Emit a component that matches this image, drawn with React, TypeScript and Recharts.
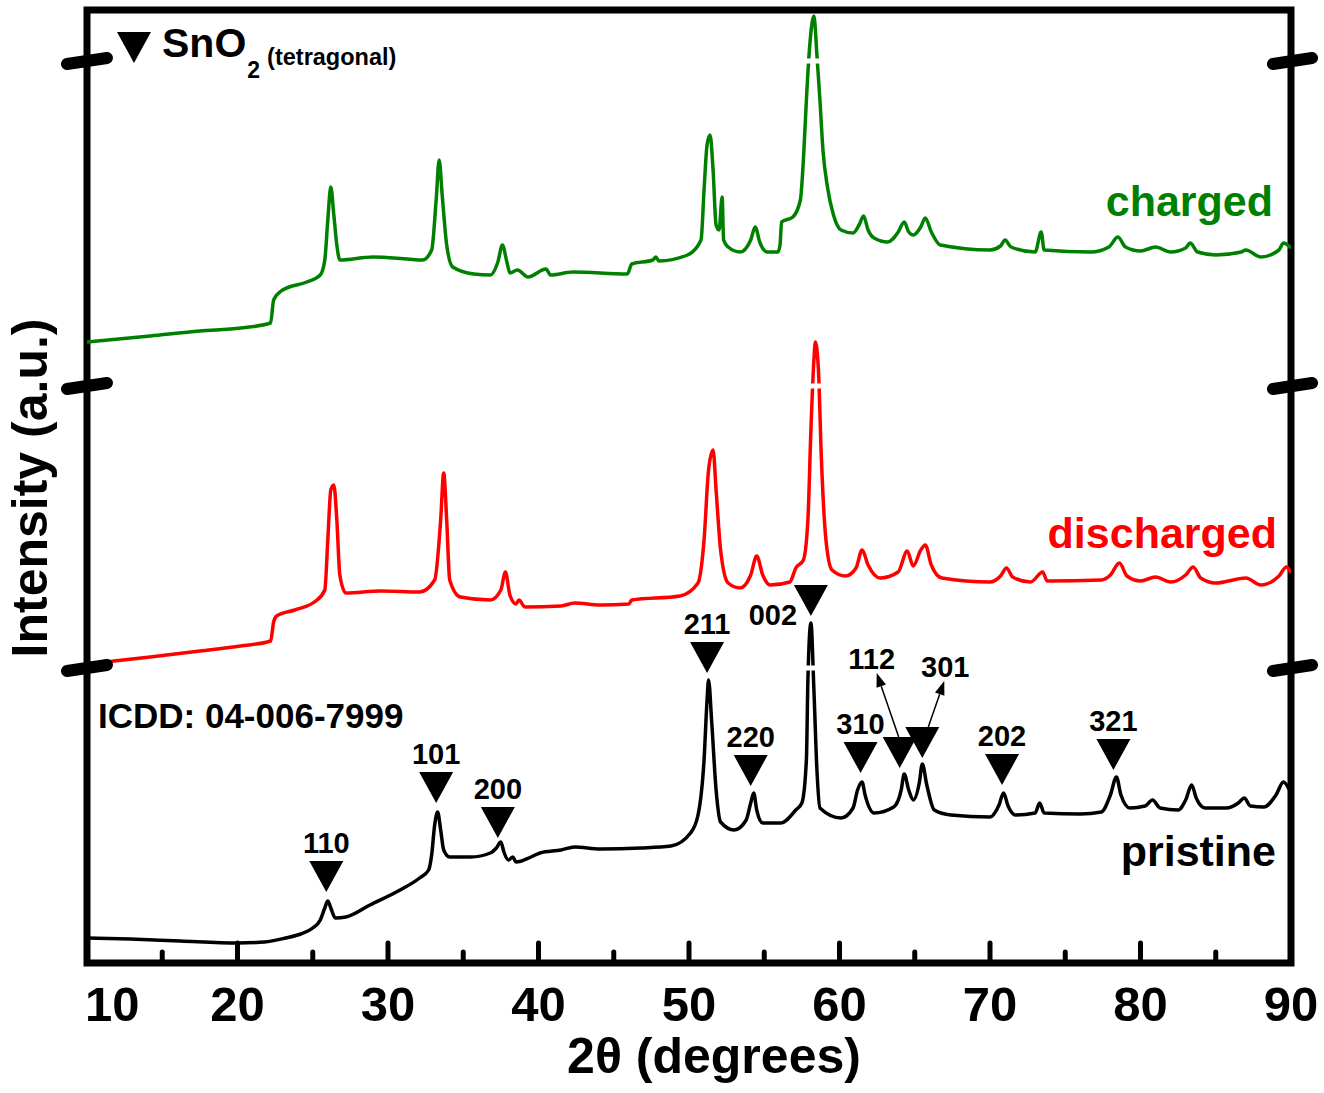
import { Line, LineChart, ReferenceArea, ReferenceDot, ReferenceLine, XAxis, YAxis } from 'recharts';

const FONT = '"Liberation Sans", Arial, sans-serif';

// XRD patterns: [2θ (degrees), intensity (a.u.)].
// Intensities are already stacked (vertical offset) as in the figure.
const pristine: [number, number][] = [
  [10.0, 25], [12.9, 24], [16.2, 22], [20.0, 20], [21.8, 21], [23.2, 25], [24.2, 29], [25.0, 35],
  [25.5, 43], [25.8, 55], [26.0, 62], [26.2, 55], [26.5, 45], [27.2, 46], [28.8, 58], [30.8, 73],
  [32.1, 85], [32.7, 93], [32.9, 108], [33.1, 138], [33.3, 151], [33.5, 133], [33.7, 113], [34.1, 106],
  [35.5, 106], [36.8, 110], [37.2, 115], [37.5, 121], [37.7, 111], [38.0, 103], [38.3, 106], [38.5, 101],
  [39.5, 106], [40.1, 110], [41.5, 113], [42.4, 116], [44.1, 114], [46.8, 115], [48.8, 117], [50.1, 130],
  [50.6, 148], [51.0, 203], [51.2, 263], [51.3, 283], [51.5, 243], [51.8, 173], [52.1, 141], [53.0, 133],
  [53.8, 143], [54.1, 160], [54.3, 170], [54.5, 153], [54.9, 140], [56.1, 140], [57.1, 153], [57.5, 160],
  [57.8, 203], [57.9, 283], [58.1, 340], [58.3, 273], [58.5, 193], [58.7, 155], [60.1, 145], [60.9, 155],
  [61.2, 173], [61.5, 181], [61.7, 168], [62.3, 150], [63.6, 156], [64.1, 173], [64.3, 189], [64.6, 173],
  [64.9, 163], [65.3, 180], [65.5, 199], [65.8, 178], [66.3, 153], [67.4, 148], [70.0, 146], [70.6, 158],
  [70.9, 170], [71.2, 157], [71.7, 148], [73.0, 150], [73.3, 160], [73.6, 150], [76.0, 149], [77.4, 151],
  [78.0, 168], [78.4, 186], [78.7, 168], [79.3, 155], [80.3, 157], [80.8, 163], [81.3, 155], [82.5, 153],
  [83.0, 163], [83.4, 178], [83.7, 165], [84.3, 155], [85.7, 155], [86.5, 160], [86.9, 165], [87.3, 157],
  [88.2, 156], [89.0, 168], [89.5, 181], [89.9, 173],
];

const discharged: [number, number][] = [
  [10.0, 299], [14.2, 306], [17.5, 312], [20.2, 317], [22.2, 322], [22.4, 341], [22.6, 347], [23.8, 353],
  [25.2, 362], [25.8, 373], [26.0, 423], [26.2, 473], [26.4, 478], [26.6, 443], [26.8, 388], [27.2, 370],
  [29.5, 372], [32.1, 371], [33.1, 383], [33.5, 443], [33.7, 490], [33.9, 443], [34.1, 383], [34.8, 366],
  [36.8, 363], [37.5, 373], [37.8, 391], [38.1, 368], [38.5, 359], [38.7, 363], [39.1, 356], [41.5, 357],
  [42.4, 360], [44.1, 358], [46.0, 359], [46.2, 363], [49.4, 367], [50.6, 380], [51.0, 423], [51.3, 493],
  [51.6, 513], [51.8, 473], [52.1, 413], [52.6, 380], [53.4, 375], [54.1, 388], [54.5, 407], [54.9, 388],
  [55.4, 378], [56.7, 381], [57.1, 395], [57.6, 403], [57.9, 443], [58.1, 533], [58.3, 603], [58.4, 621],
  [58.6, 593], [58.8, 503], [59.1, 423], [59.5, 393], [60.4, 387], [61.1, 395], [61.5, 413], [61.9, 398],
  [62.7, 385], [63.9, 391], [64.5, 412], [64.9, 397], [65.4, 413], [65.7, 418], [66.1, 398], [66.8, 385],
  [70.0, 381], [70.7, 387], [71.1, 395], [71.5, 386], [72.7, 381], [73.5, 391], [73.8, 382], [77.4, 383],
  [78.0, 388], [78.6, 400], [79.1, 387], [80.0, 382], [81.0, 386], [82.0, 381], [83.0, 388], [83.5, 396],
  [84.0, 385], [85.0, 380], [87.0, 385], [88.0, 378], [89.2, 387], [89.7, 396], [90.0, 390],
];

const charged: [number, number][] = [
  [10.0, 621], [14.2, 627], [17.5, 632], [20.2, 635], [22.2, 640], [22.4, 663], [23.0, 673], [24.6, 681],
  [25.5, 688], [25.8, 703], [26.0, 743], [26.2, 776], [26.4, 748], [26.6, 718], [26.8, 703], [29.0, 706],
  [31.3, 704], [32.3, 703], [32.9, 713], [33.2, 763], [33.4, 803], [33.6, 768], [33.9, 718], [34.3, 696],
  [35.7, 689], [36.8, 688], [37.3, 701], [37.6, 718], [37.9, 701], [38.1, 690], [38.6, 693], [39.3, 686],
  [40.5, 694], [40.8, 688], [42.3, 691], [45.9, 689], [46.2, 699], [47.6, 703], [47.8, 706], [48.0, 702],
  [49.9, 708], [50.8, 723], [51.0, 773], [51.2, 818], [51.4, 828], [51.6, 793], [51.8, 738], [52.0, 733],
  [52.2, 766], [52.3, 723], [52.6, 716], [53.4, 711], [54.1, 723], [54.4, 736], [54.7, 721], [55.2, 711],
  [55.9, 711], [56.05, 718], [56.15, 741], [56.9, 746], [57.4, 763], [57.6, 803], [57.8, 863], [58.0, 913],
  [58.3, 947], [58.5, 908], [58.7, 863], [58.9, 813], [59.2, 776], [59.6, 748], [60.1, 733], [60.9, 730],
  [61.3, 738], [61.6, 747], [61.9, 733], [62.3, 725], [63.2, 721], [63.9, 731], [64.3, 741], [64.6, 731],
  [64.9, 728], [65.4, 736], [65.7, 745], [66.1, 731], [66.7, 718], [70.0, 713], [70.7, 717], [71.0, 723],
  [71.4, 716], [73.0, 711], [73.4, 731], [73.6, 713], [76.7, 711], [77.9, 716], [78.5, 726], [79.0, 716],
  [80.0, 712], [81.0, 716], [82.0, 711], [83.0, 715], [83.3, 720], [83.8, 711], [85.0, 708], [86.7, 711],
  [87.0, 713], [88.0, 706], [89.2, 713], [89.5, 720], [90.0, 715],
];

// SnO2 (tetragonal) reflections, ▼ tip position on the pristine pattern
const sno2Hkl = ['110', '101', '200', '211', '220', '002', '310', '112', '301', '202', '321'];
const sno2Theta = [25.9, 33.2, 37.3, 51.2, 54.1, 58.1, 61.4, 64.0, 65.5, 70.8, 78.2];
const sno2Mark = [71, 160, 125, 290, 177, 347, 190, 195, 205, 178, 193];

const xTicks = [10, 15, 20, 25, 30, 35, 40, 45, 50, 55, 60, 65, 70, 75, 80, 85, 90];
// intensity levels where the axis is broken between the stacked patterns
const breakLevels = [902, 577, 295];

// crowded labels get moved off the default spot (above the triangle)
const LABEL_POS: Record<string, { dx: number; dy: number; arrow?: number[] }> = {
  '002': { dx: -38, dy: 9 },
  '112': { dx: -28, dy: -99, arrow: [-1, -31, -23, -95] },
  '301': { dx: 23, dy: -81, arrow: [6, -31, 22, -77] },
};

const toRows = (pts: [number, number][]) => pts.map(([t, i]) => ({ t, i }));

function XTick(props: any) {
  const { x, y, payload } = props;
  const v = payload.value;
  const major = v % 10 === 0;
  return (
    <g>
      <line x1={x} x2={x} y1={y} y2={y - (major ? 20 : 11)} stroke="#000" strokeWidth={5} strokeLinecap="round" />
      {major && (
        <text
          x={v === 10 ? x - 2 : x}
          y={y + 58}
          textAnchor={v === 10 ? 'start' : 'middle'}
          fontFamily={FONT}
          fontWeight="bold"
          fontSize={49}
          fill="#000"
        >
          {v}
        </text>
      )}
    </g>
  );
}

function SnMarker({ cx, cy, hkl }: { cx: number; cy: number; hkl: string }) {
  const pos = LABEL_POS[hkl] ?? { dx: 0, dy: -39 };
  let arrow = null;
  if (pos.arrow) {
    const [ax1, ay1, ax2, ay2] = pos.arrow;
    const x1 = cx + ax1, y1 = cy + ay1, x2 = cx + ax2, y2 = cy + ay2;
    const len = Math.hypot(x2 - x1, y2 - y1);
    const ux = (x2 - x1) / len, uy = (y2 - y1) / len;
    const bx = x2 - ux * 14, by = y2 - uy * 14;
    arrow = (
      <g>
        <line x1={x1} y1={y1} x2={bx} y2={by} stroke="#000" strokeWidth={1.5} />
        <polygon points={`${x2},${y2} ${bx - uy * 5},${by + ux * 5} ${bx + uy * 5},${by - ux * 5}`} fill="#000" />
      </g>
    );
  }
  return (
    <g>
      <polygon points={`${cx - 17},${cy - 31} ${cx + 17},${cy - 31} ${cx},${cy}`} fill="#000" />
      {arrow}
      <text x={cx + pos.dx} y={cy + pos.dy} textAnchor="middle" fontFamily={FONT} fontWeight="bold" fontSize={29} fill="#000">
        {hkl}
      </text>
    </g>
  );
}

export default function App() {
  return (
    <div style={{ position: 'absolute', left: 0, top: 0, width: 1324, height: 1093, background: '#fff' }}>
      <LineChart width={1324} height={1093} margin={{ top: 10, right: 33, bottom: 100, left: 87 }}>
        <XAxis
          dataKey="t"
          type="number"
          domain={[10, 90]}
          ticks={xTicks}
          interval={0}
          allowDataOverflow
          axisLine={false}
          tickLine={false}
          tickSize={0}
          tickMargin={0}
          height={30}
          tick={(p: any) => <XTick {...p} />}
        />
        <YAxis type="number" domain={[0, 953]} allowDataOverflow hide width={0} />
        <Line data={toRows(pristine)} dataKey="i" type="monotone" stroke="#000" strokeWidth={3.5} dot={false} isAnimationActive={false} />
        <Line data={toRows(discharged)} dataKey="i" type="monotone" stroke="#ff0000" strokeWidth={3.5} dot={false} isAnimationActive={false} />
        <Line data={toRows(charged)} dataKey="i" type="monotone" stroke="#008000" strokeWidth={3.5} dot={false} isAnimationActive={false} />
        {breakLevels.map((lvl) => (
          <ReferenceLine key={`gap${lvl}`} y={lvl} stroke="#fff" strokeWidth={5} />
        ))}
        <ReferenceArea x1={10} x2={90} y1={0} y2={953} fill="none" stroke="#000" strokeWidth={7} />
        {breakLevels.map((lvl) => (
          <ReferenceLine
            key={`bl${lvl}`}
            segment={[{ x: 8.67, y: lvl - 3 }, { x: 11.33, y: lvl + 3 }]}
            ifOverflow="visible"
            stroke="#000"
            strokeWidth={12}
            strokeLinecap="round"
          />
        ))}
        {breakLevels.map((lvl) => (
          <ReferenceLine
            key={`br${lvl}`}
            segment={[{ x: 88.8, y: lvl - 3 }, { x: 91.4, y: lvl + 3 }]}
            ifOverflow="visible"
            stroke="#000"
            strokeWidth={12}
            strokeLinecap="round"
          />
        ))}
        {sno2Hkl.map((hkl, k) => (
          <ReferenceDot
            key={hkl}
            x={sno2Theta[k]}
            y={sno2Mark[k]}
            ifOverflow="visible"
            shape={(p: any) => <SnMarker cx={p.cx} cy={p.cy} hkl={hkl} />}
          />
        ))}
      </LineChart>

      <svg
        width={1324}
        height={1093}
        style={{ position: 'absolute', left: 0, top: 0, pointerEvents: 'none' }}
        fontFamily={FONT}
        fontWeight="bold"
      >
        <polygon points="117,32 151,32 134,63" fill="#000" />
        <text x={162} y={57}>
          <tspan fontSize={41}>SnO</tspan>
          <tspan fontSize={23} dx={1} dy={21}>2</tspan>
          <tspan fontSize={23.5} dx={7} dy={-13}>(tetragonal)</tspan>
        </text>

        <text x={1273} y={216} textAnchor="end" fontSize={43} fill="#008000">charged</text>
        <text x={1277} y={548} textAnchor="end" fontSize={43} fill="#ff0000">discharged</text>
        <text x={1276} y={866} textAnchor="end" fontSize={43} fill="#000">pristine</text>
        <text x={98} y={728} fontSize={35} fill="#000">ICDD: 04-006-7999</text>

        <text transform="translate(47,488) rotate(-90)" textAnchor="middle" fontSize={50}>Intensity (a.u.)</text>
        <text x={714} y={1073} textAnchor="middle" fontSize={50}>2θ (degrees)</text>
      </svg>
    </div>
  );
}
